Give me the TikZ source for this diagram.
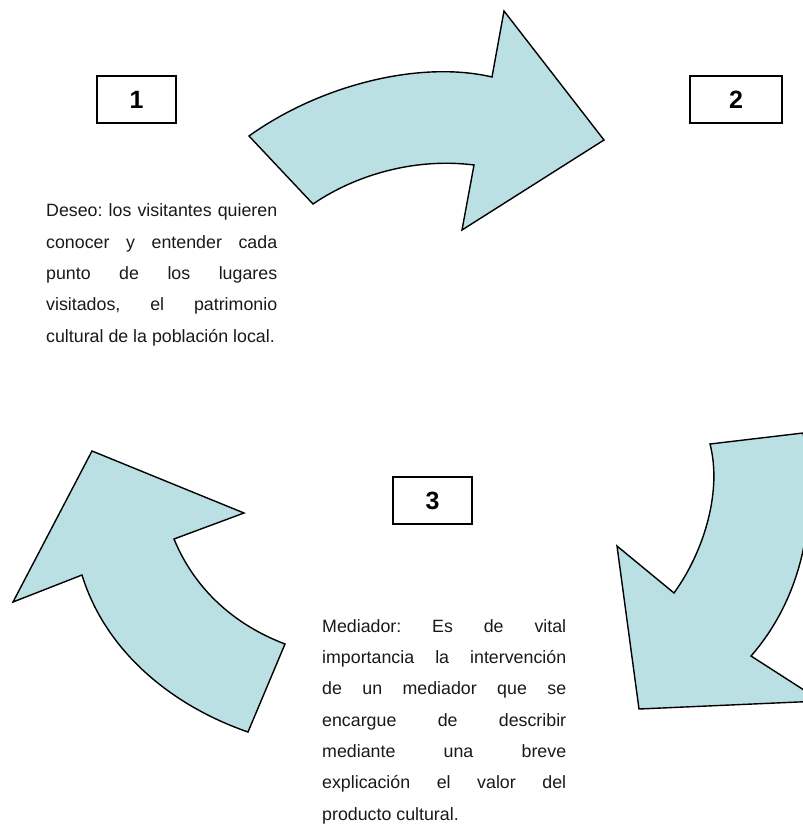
\documentclass[tikz,border=0pt]{standalone}
\usepackage{fontspec}
\setmainfont{Liberation Sans}
\definecolor{arrowfill}{RGB}{186,224,228}
\definecolor{txt}{RGB}{25,25,25}
\tikzset{
  bigarrow/.style={fill=arrowfill, draw=black, line width=1.4pt, line join=miter},
  numbox/.style={draw=black, line width=1.1pt, minimum width=79pt, minimum height=47pt, inner sep=0pt, font=\fontsize{25}{27}\selectfont\bfseries},
  bodytext/.style={inner sep=0pt, anchor=base west, align=left, text=txt, font=\frenchspacing\fontsize{17.8}{31.3}\selectfont}
}
\begin{document}
\begin{tikzpicture}[x=1pt,y=-1pt]
\useasboundingbox (0,0) rectangle (803,825);
\begin{scope}
\clip (0,0) rectangle (803,825);
% arrow 1 (top)
\draw[bigarrow] (249,136) .. controls (320,85) and (420,60) .. (492,77)
  -- (504,11) -- (604,140) -- (462,230) -- (474,165)
  .. controls (420,158) and (360,172) .. (313,204) -- cycle;
% arrow 2 (right)
\draw[bigarrow] (710,444) -- (803,433)
  .. controls (820,520) and (800,600) .. (751,656)
  -- (821,701) -- (639,709) -- (617,546) -- (674,593)
  .. controls (705,550) and (722,490) .. (710,444) -- cycle;
% arrow 3 (left)
\draw[bigarrow] (92,451) -- (244,513) -- (174,539)
  .. controls (195,590) and (235,625) .. (285,644)
  -- (248,732)
  .. controls (170,705) and (105,650) .. (82,575)
  -- (13,602) -- cycle;
\end{scope}
% number boxes
\node[numbox] (b1) at (136.5,99.5) {1};
\node[numbox, minimum width=92pt] (b2) at (736,99.5) {2};
\node[numbox] (b3) at (432.5,500.5) {3};
% texts (anchor = baseline of last line)
\node[bodytext] (t1) at (46,342) {%
\makebox[231pt][s]{Deseo: los visitantes quieren}\\
\makebox[231pt][s]{conocer y entender cada}\\
\makebox[231pt][s]{punto de los lugares}\\
\makebox[231pt][s]{visitados, el patrimonio}\\
cultural de la población local.};
\node[bodytext] (t3) at (322,820) {%
\makebox[244pt][s]{Mediador: Es de vital}\\
\makebox[244pt][s]{importancia la intervención}\\
\makebox[244pt][s]{de un mediador que se}\\
\makebox[244pt][s]{encargue de describir}\\
\makebox[244pt][s]{mediante una breve}\\
\makebox[244pt][s]{explicación el valor del}\\
producto cultural.};
\end{tikzpicture}
\end{document}
